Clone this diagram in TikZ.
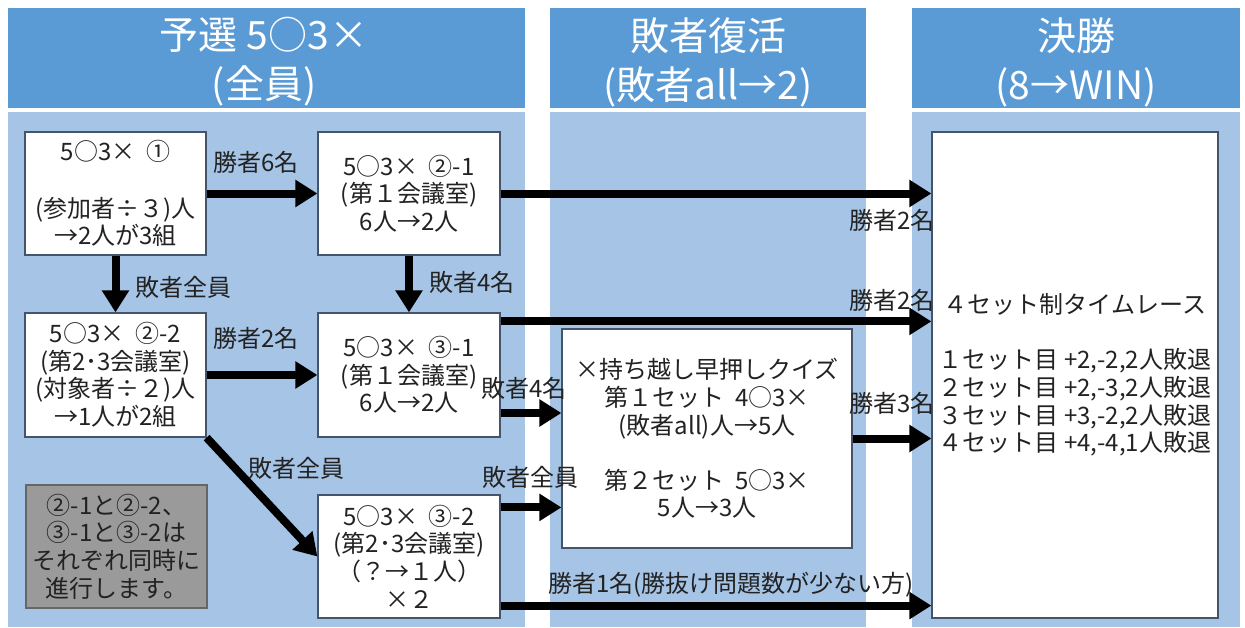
\documentclass[tikz,border=0pt]{standalone}
\usepackage{fontspec}
\setmainfont{Noto Sans CJK JP}
\usetikzlibrary{arrows.meta,calc}
\definecolor{hdr}{HTML}{5B9BD5}
\definecolor{pnl}{HTML}{A6C4E6}
\definecolor{bord}{HTML}{44546A}
\definecolor{txt}{HTML}{222222}
\definecolor{grayfill}{HTML}{9A9A9A}
\begin{document}
\begin{tikzpicture}[x=1pt,y=-1pt,
  box/.style={draw=bord,line width=1.2pt,fill=white,inner sep=0pt,align=center,text=txt,
    font=\fontsize{24}{27.6}\selectfont},
  note/.style={box,fill=grayfill,draw=black!60},
  hdrtxt/.style={text=white,align=center,font=\fontsize{39}{49}\selectfont},
  lbl/.style={font=\fontsize{24}{27}\selectfont,text=txt,inner sep=0pt},
  arr/.style={line width=8pt,-{Triangle[length=22pt,width=26pt]}},
]
\useasboundingbox (0,0) rectangle (1245,627);
% column backgrounds
\fill[hdr] (8,8) rectangle (525,108);
\fill[hdr] (550,8) rectangle (866,108);
\fill[hdr] (912,8) rectangle (1240,108);
\fill[pnl] (8,112) rectangle (525,627);
\fill[pnl] (550,112) rectangle (866,627);
\fill[pnl] (912,112) rectangle (1240,627);
% headers
\node[hdrtxt] (h1) at (264,62) {予選 5○3×\\(全員)};
\node[hdrtxt] (h2) at (708,62) {敗者復活\\(敗者all→2)};
\node[hdrtxt] (h3) at (1076,62) {決勝\\(8→WIN)};
% boxes
\node[box,minimum width=181pt,minimum height=123pt] (b1) at (115.5,193.5)
  {5○3×\ \ ①\\[29pt](参加者÷３)人\\→2人が3組};
\node[box,minimum width=182pt,minimum height=123pt] (b2) at (409,193.5)
  {5○3×\ \ ②-1\\(第１会議室)\\6人→2人};
\node[box,minimum width=181pt,minimum height=124pt] (b3) at (115.5,375)
  {5○3×\ \ ②-2\\(第2･3会議室)\\(対象者÷２)人\\→1人が2組};
\node[box,minimum width=182pt,minimum height=124pt] (b4) at (409,375)
  {5○3×\ \ ③-1\\(第１会議室)\\6人→2人};
\node[box,minimum width=182pt,minimum height=123pt] (b5) at (409,556.5)
  {5○3×\ \ ③-2\\(第2･3会議室)\\（？→１人）\\×２};
\node[box,minimum width=290pt,minimum height=219pt] (b6) at (707,438.5)
  {×持ち越し早押しクイズ\\第１セット\ \ 4○3×\\(敗者all)人→5人\\[27.6pt]第２セット\ \ 5○3×\\5人→3人};
\node[box,minimum width=286pt,minimum height=486pt] (fin) at (1075,375)
  {４セット制タイムレース\\[27.6pt]１セット目 +2,-2,2人敗退\\２セット目 +2,-3,2人敗退\\３セット目 +3,-2,2人敗退\\４セット目 +4,-4,1人敗退};
\node[note,minimum width=181pt,minimum height=123pt] (nt) at (116.5,546.5)
  {②-1と②-2、\\③-1と③-2は\\それぞれ同時に\\進行します。};
% helper coordinates
\coordinate (p1) at ([yshift=-9pt]b4.north east);
\coordinate (p2) at ([yshift=-38pt]b4.east);
\coordinate (p3) at ([yshift=-13pt]b5.north east);
\coordinate (p4) at ([yshift=13pt]b5.south east);
% connectors
\draw[arr] (b1.east) -- (b2.west);
\draw[arr] (b1.south) -- (b3.north);
\draw[arr] (b2.south) -- (b4.north);
\draw[arr] (b3.east) -- (b4.west);
\draw[arr] (b3.south east) -- (b5.west);
\draw[arr] (b2.east) -- (b2.east -| fin.west);
\draw[arr] (p1) -- (p1 -| fin.west);
\draw[arr] (p2) -- (p2 -| b6.west);
\draw[arr] (p3) -- (p3 -| b6.west);
\draw[arr] (b6.east) -- (b6.east -| fin.west);
\draw[arr] (p4) -- (p4 -| fin.west);
% labels
\node[lbl] (l1) at (256,162) {勝者6名};
\node[lbl] (l2) at (183,287) {敗者全員};
\node[lbl] (l3) at (472,282) {敗者4名};
\node[lbl] (l4) at (256,338) {勝者2名};
\node[lbl] (l5) at (296,468) {敗者全員};
\node[lbl] (l6) at (892,220) {勝者2名};
\node[lbl] (l7) at (892,300) {勝者2名};
\node[lbl] (l8) at (524,388) {敗者4名};
\node[lbl] (l9) at (530,477) {敗者全員};
\node[lbl] (l10) at (892,403) {勝者3名};
\node[lbl] (l11) at (731,585) {勝者1名(勝抜け問題数が少ない方)};
\end{tikzpicture}
\end{document}
